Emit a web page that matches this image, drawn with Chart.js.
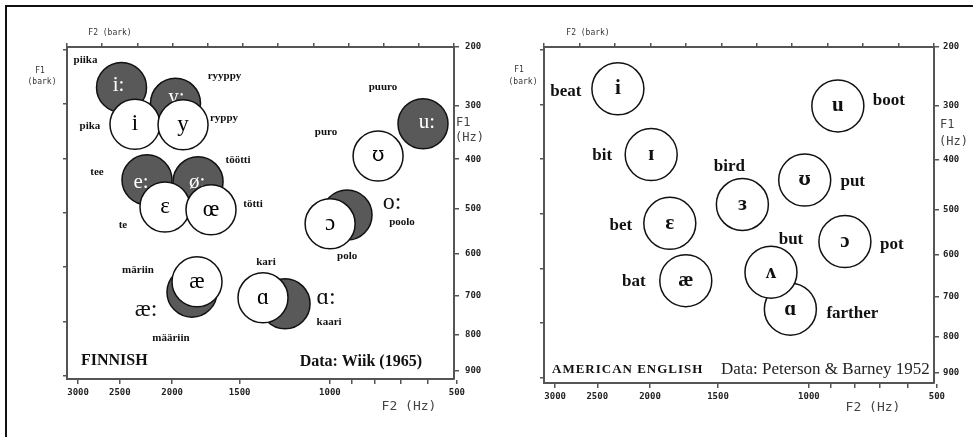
<!DOCTYPE html>
<html>
<head>
<meta charset="utf-8">
<script src="https://cdn.jsdelivr.net/npm/chart.js@4.4.0/dist/chart.umd.min.js"></script>
<style>
  html, body { margin: 0; padding: 0; background: #fff; }
  body { width: 973px; height: 437px; position: relative; overflow: hidden; }
  #frame { position: absolute; left: 5px; top: 5px; right: 0; bottom: 0;
           border-top: 2px solid #111; border-left: 2px solid #111; }
  canvas { position: absolute; top: 0; }
  #finnish { left: 0; }
  #english { left: 486px; }
</style>
</head>
<body>
<div id="frame"></div>
<canvas id="finnish" width="486" height="437"></canvas>
<canvas id="english" width="487" height="437"></canvas>
<script>
// Finnish vowels, Wiik (1965) - short (white) and long (grey)
const fiShortVowels = ['i', 'y', 'ɛ', 'œ', 'ʊ', 'ɔ', 'æ', 'ɑ'];
const fiShortF2 = [2343, 1910, 2062, 1696, 788, 999, 1800, 1355];
const fiShortF1 = [334, 335, 497, 503, 394, 533, 666, 705];
const fiShortWords = ['pika', 'ryppy', 'te', 'tötti', 'puro', 'polo', 'märiin', 'kari'];

const fiLongVowels = ['i:', 'y:', 'e:', 'ø:', 'u:', 'o:', 'æ:', 'ɑ:'];
const fiLongF2 = [2482, 1972, 2226, 1792, 616, 921, 1839, 1229];
const fiLongF1 = [268, 296, 441, 445, 333, 514, 691, 720];
const fiLongWords = ['piika', 'ryyppy', 'tee', 'töötti', 'puuro', 'poolo', 'määriin', 'kaari'];

// American English, Peterson & Barney (1952)
const enVowels = ['i', 'ɪ', 'ɛ', 'æ', 'ɑ', 'ɔ', 'ʊ', 'u', 'ʌ', 'ɜ'];
const enF2 = [2290, 1990, 1840, 1720, 1090, 840, 1020, 870, 1190, 1350];
const enF1 = [270, 390, 530, 660, 730, 570, 440, 300, 640, 490];
const enWords = ['beat', 'bit', 'bet', 'bat', 'farther', 'pot', 'put', 'boot', 'but', 'bird'];

// axis ticks
const F2_TICKS = [3000, 2500, 2000, 1500, 1000, 900, 800, 700, 600, 500];
const F2_LABELLED = [3000, 2500, 2000, 1500, 1000, 500];
const F1_TICKS = [200, 300, 400, 500, 600, 700, 800, 900];
const F2_BARK_TICKS = [5, 6, 7, 8, 9, 10, 11, 12, 13, 14, 15, 16];
const F1_BARK_TICKS = [2, 3, 4, 5, 6, 7, 8];

// Traunmuller bark conversion
function hzToBark(f) { return 26.81 * f / (1960 + f) - 0.53; }
function barkToHz(z) { return 1960 * (z + 0.53) / (26.28 - z); }

// linear scale drawn on a bark axis, values stay in Hz
class BarkScale extends Chart.LinearScale {
  configure() {
    super.configure();
    this._barkStart = hzToBark(this.min);
    this._barkRange = hzToBark(this.max) - this._barkStart;
  }
  getPixelForValue(value) {
    if (value === null || value === undefined) return NaN;
    return this.getPixelForDecimal((hzToBark(value) - this._barkStart) / this._barkRange);
  }
  getValueForPixel(pixel) {
    return barkToHz(this._barkStart + this.getDecimalForPixel(pixel) * this._barkRange);
  }
}
BarkScale.id = 'bark';
BarkScale.defaults = {};
Chart.register(BarkScale);

const SERIF = '"Liberation Serif", "DejaVu Serif", serif';
const IPA_SERIF = '"DejaVu Serif", serif';   // nicer upsilon
const MONO = '"DejaVu Sans Mono", monospace';
const AXIS_COLOR = '#555';

function symbolFont(sym, f) {
  if (sym === 'ʊ') return `${f.weight} ${f.size - 3}px ${IPA_SERIF}`;
  return `${f.weight} ${f.size}px ${SERIF}`;
}

const finnish = {
  canvas: 'finnish',
  radius: 25,
  f1Max: barkToHz(8.055),
  sizes: { top: 47, left: 67, right: 32, bottom: 58 },
  rightPad: 6,
  sets: [
    {
      f2: fiShortF2, f1: fiShortF1, symbols: fiShortVowels, words: fiShortWords,
      fill: '#fff', symbolColor: '#000', symbolFont: { size: 23, weight: 'normal' },
      symbolOffsets: [[0, 0], [0, 0], [0, 0], [0, 0], [0, 0], [0, 0], [0, 0], [0, 0]],
      wordFont: 'bold 11px ' + SERIF,
      wordOffsets: [[-45, 2], [41, -7], [-42, 18], [42, -6], [-52, -24], [17, 32], [-59, -12], [3, -36]]
    },
    {
      f2: fiLongF2, f1: fiLongF1, symbols: fiLongVowels, words: fiLongWords,
      fill: '#595959', symbolColor: '#fff', symbolFont: { size: 21, weight: 'normal' },
      outsideFont: { size: 24, weight: 'normal' },
      outside: [false, false, false, false, false, true, true, true],
      symbolOffsets: [[-3, -2], [1, -6], [-6, 3], [-1, 1], [4, -1], [45, -12], [-46, 18], [41, -6]],
      wordFont: 'bold 11px ' + SERIF,
      wordOffsets: [[-36, -27], [49, -27], [-50, -8], [40, -22], [-40, -37], [55, 7], [-21, 46], [44, 18]]
    }
  ],
  captions: [
    { text: 'FINNISH', x: 81, y: 361, align: 'left', font: 'bold 16px ' + SERIF, color: '#111' },
    { text: 'Data: Wiik (1965)', x: 422, y: 362, align: 'right', font: 'bold 16px ' + SERIF, color: '#111' },
    { text: 'F2 (Hz)', x: 409, y: 407, align: 'center', font: '13px ' + MONO, color: '#444' },
    { text: 'F1', x: 456, y: 123, align: 'left', font: '12px ' + MONO, color: '#444' },
    { text: '(Hz)', x: 455, y: 138, align: 'left', font: '12px ' + MONO, color: '#444' },
    { text: 'F2 (bark)', x: 110, y: 33, align: 'center', font: '8px ' + MONO, color: '#333' },
    { text: 'F1', x: 40, y: 71, align: 'center', font: '8px ' + MONO, color: '#333' },
    { text: '(bark)', x: 42, y: 82, align: 'center', font: '8px ' + MONO, color: '#333' }
  ]
};

const english = {
  canvas: 'english',
  radius: 26,
  f1Max: barkToHz(8.095),
  sizes: { top: 47, left: 58, right: 39, bottom: 54 },
  rightPad: 4,
  sets: [
    {
      f2: enF2, f1: enF1, symbols: enVowels, words: enWords,
      fill: '#fff', symbolColor: '#111', symbolFont: { size: 21, weight: 'bold' },
      symbolOffsets: enVowels.map(() => [0, 0]),
      wordFont: 'bold 17px ' + SERIF,
      wordOffsets: [[-52, 3], [-49, 1], [-49, 2], [-52, 1], [62, 4], [47, 3], [48, 2], [51, -5], [20, -33], [-13, -38]]
    }
  ],
  captions: [
    { text: 'AMERICAN ENGLISH', x: 66, y: 370, align: 'left', font: 'bold 13px ' + SERIF, color: '#111', spacing: '1px' },
    { text: 'Data: Peterson & Barney 1952', x: 235, y: 370, align: 'left', font: '17px ' + SERIF, color: '#222' },
    { text: 'F2 (Hz)', x: 387, y: 408, align: 'center', font: '13px ' + MONO, color: '#444' },
    { text: 'F1', x: 454, y: 125, align: 'left', font: '12px ' + MONO, color: '#444' },
    { text: '(Hz)', x: 453, y: 142, align: 'left', font: '12px ' + MONO, color: '#444' },
    { text: 'F2 (bark)', x: 102, y: 33, align: 'center', font: '8px ' + MONO, color: '#333' },
    { text: 'F1', x: 33, y: 70, align: 'center', font: '8px ' + MONO, color: '#333' },
    { text: '(bark)', x: 37, y: 82, align: 'center', font: '8px ' + MONO, color: '#333' }
  ]
};

function textPlugin(panel) {
  return {
    id: 'vowelText',
    // symbols are drawn right after their own circles so the white circles cover grey labels
    afterDatasetDraw(chart, args) {
      const set = panel.sets[args.index];
      const ctx = chart.ctx;
      ctx.save();
      ctx.textAlign = 'center';
      ctx.textBaseline = 'middle';
      args.meta.data.forEach((pt, i) => {
        const out = set.outside && set.outside[i];
        const [dx, dy] = set.symbolOffsets[i];
        ctx.font = symbolFont(set.symbols[i], out ? set.outsideFont : set.symbolFont);
        ctx.fillStyle = out ? '#111' : set.symbolColor;
        ctx.fillText(set.symbols[i], pt.x + dx, pt.y + dy);
      });
      ctx.restore();
    },
    afterDatasetsDraw(chart) {
      const ctx = chart.ctx;
      ctx.save();
      ctx.textAlign = 'center';
      ctx.textBaseline = 'middle';
      panel.sets.forEach((set, k) => {
        const meta = chart.getDatasetMeta(k);
        ctx.font = set.wordFont;
        ctx.fillStyle = '#111';
        meta.data.forEach((pt, i) => {
          const [dx, dy] = set.wordOffsets[i];
          ctx.fillText(set.words[i], pt.x + dx, pt.y + dy);
        });
      });
      ctx.restore();
    },
    afterDraw(chart) {
      const ctx = chart.ctx;
      ctx.save();
      ctx.textBaseline = 'middle';
      panel.captions.forEach(c => {
        ctx.font = c.font;
        ctx.fillStyle = c.color;
        ctx.textAlign = c.align;
        ctx.letterSpacing = c.spacing || '0px';
        ctx.fillText(c.text, c.x, c.y);
      });
      ctx.restore();
    }
  };
}

function makePanel(panel) {
  const tickFont = { family: MONO, size: 9, weight: 'bold' };
  const grid = { drawOnChartArea: false, drawTicks: true, color: AXIS_COLOR, lineWidth: 1.5 };
  const border = { display: true, color: AXIS_COLOR, width: 2 };
  // long (grey) circles sit behind the short (white) ones
  const datasets = panel.sets.map((set, k) => ({
    label: k === 0 ? 'short' : 'long',
    data: set.f2.map((f2, i) => ({ x: f2, y: set.f1[i] })),
    xAxisID: 'x',
    yAxisID: 'y',
    backgroundColor: set.fill,
    borderColor: '#111',
    borderWidth: 1.5,
    pointRadius: panel.radius,
    pointHoverRadius: panel.radius,
    clip: false,
    order: k + 1
  }));

  return new Chart(document.getElementById(panel.canvas), {
    type: 'scatter',
    data: { datasets },
    options: {
      responsive: false,
      animation: false,
      events: [],
      layout: { padding: 0 },
      plugins: { legend: { display: false }, tooltip: { enabled: false } },
      scales: {
        x: {
          type: 'bark', position: 'bottom', reverse: true, bounds: 'data',
          min: barkToHz(5), max: barkToHz(16),
          afterBuildTicks: s => { s.ticks = F2_TICKS.map(v => ({ value: v })); },
          afterFit: s => { s.height = panel.sizes.bottom; },
          ticks: {
            autoSkip: false, maxRotation: 0, padding: 3, color: '#222', font: tickFont,
            callback: v => F2_LABELLED.includes(v) ? String(v) : ''
          },
          grid: { ...grid, tickLength: 5 },
          border
        },
        xTop: {
          type: 'linear', position: 'top', reverse: true, bounds: 'data', min: 5, max: 16,
          afterBuildTicks: s => { s.ticks = F2_BARK_TICKS.map(v => ({ value: v })); },
          afterFit: s => { s.height = panel.sizes.top; },
          ticks: { display: false },
          grid: { ...grid, tickLength: 4 },
          border
        },
        y: {
          type: 'bark', position: 'right', reverse: true, bounds: 'data',
          min: 200, max: panel.f1Max,
          afterBuildTicks: s => { s.ticks = F1_TICKS.map(v => ({ value: v })); },
          afterFit: s => { s.width = panel.sizes.right; },
          ticks: { autoSkip: false, padding: panel.rightPad, color: '#222', font: tickFont },
          grid: { ...grid, tickLength: 5 },
          border
        },
        yLeft: {
          type: 'linear', position: 'left', reverse: true, bounds: 'data',
          min: hzToBark(200), max: hzToBark(panel.f1Max),
          afterBuildTicks: s => { s.ticks = F1_BARK_TICKS.map(v => ({ value: v })); },
          afterFit: s => { s.width = panel.sizes.left; },
          ticks: { display: false },
          grid: { ...grid, tickLength: 4 },
          border
        }
      }
    },
    plugins: [textPlugin(panel)]
  });
}

makePanel(finnish);
makePanel(english);
</script>
</body>
</html>
